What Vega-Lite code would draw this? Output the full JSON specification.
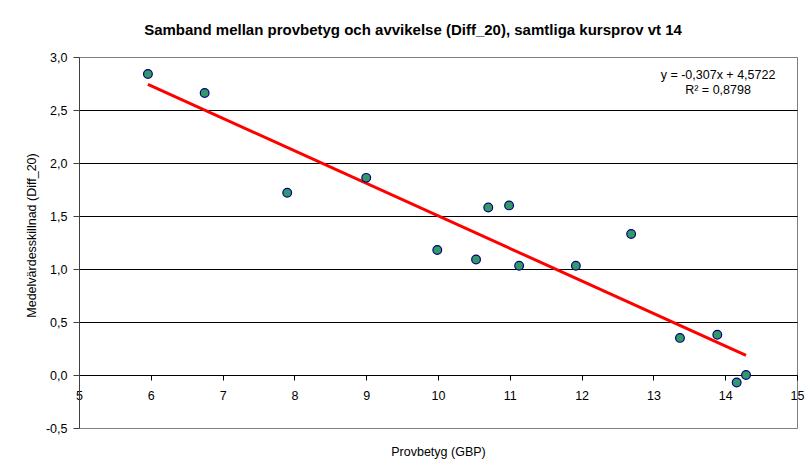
{
  "$schema": "https://vega.github.io/schema/vega-lite/v6.json",
  "width": 718,
  "height": 371,
  "autosize": {"type": "none"},
  "padding": {"left": 79, "top": 57, "right": 12, "bottom": 45},
  "background": "white",
  "config": {
    "font": "Liberation Sans",
    "view": {"stroke": "#808080", "strokeWidth": 1},
    "axis": {"labelFont": "Liberation Sans", "titleFont": "Liberation Sans", "labelColor": "#000", "titleColor": "#000", "titleFontWeight": "normal"}
  },
  "title": {
    "text": "Samband mellan provbetyg och avvikelse (Diff_20), samtliga kursprov vt 14",
    "anchor": "middle",
    "frame": "group",
    "dx": -25,
    "offset": 13,
    "font": "Liberation Sans",
    "fontSize": 15,
    "fontWeight": "bold",
    "color": "#000"
  },
  "datasets": {
    "points": [
      {"provbetyg": 5.96, "diff": 2.84},
      {"provbetyg": 6.75, "diff": 2.66},
      {"provbetyg": 7.90, "diff": 1.72},
      {"provbetyg": 9.00, "diff": 1.86},
      {"provbetyg": 9.99, "diff": 1.18},
      {"provbetyg": 10.53, "diff": 1.09},
      {"provbetyg": 10.70, "diff": 1.58},
      {"provbetyg": 10.99, "diff": 1.60},
      {"provbetyg": 11.13, "diff": 1.03},
      {"provbetyg": 11.92, "diff": 1.03},
      {"provbetyg": 12.69, "diff": 1.33},
      {"provbetyg": 13.37, "diff": 0.35},
      {"provbetyg": 13.89, "diff": 0.38},
      {"provbetyg": 14.16, "diff": -0.07},
      {"provbetyg": 14.29, "diff": 0.0}
    ],
    "trend": [
      {"provbetyg": 5.96, "diff": 2.742},
      {"provbetyg": 14.29, "diff": 0.185}
    ],
    "annotation": [
      {"provbetyg": 13.9, "diff": 2.83, "label": "y = -0,307x + 4,5722"},
      {"provbetyg": 13.9, "diff": 2.69, "label": "R² = 0,8798"}
    ]
  },
  "encoding": {
    "x": {
      "field": "provbetyg",
      "type": "quantitative",
      "scale": {"domain": [5, 15], "nice": false, "zero": false},
      "axis": {
        "title": "Provbetyg (GBP)",
        "titleFontSize": 12.5,
        "titleY": 76,
        "titleBaseline": "middle",
        "offset": -53,
        "values": [5, 6, 7, 8, 9, 10, 11, 12, 13, 14, 15],
        "format": "d",
        "labelFontSize": 12.5,
        "labelFlush": false,
        "labelOverlap": false,
        "labelPadding": 9,
        "tickSize": 5,
        "tickColor": "#000",
        "domainColor": "#000",
        "grid": false
      }
    },
    "y": {
      "field": "diff",
      "type": "quantitative",
      "scale": {"domain": [-0.5, 3], "nice": false, "zero": false},
      "axis": {
        "title": "Medelvärdesskillnad (Diff_20)",
        "titleFontSize": 12.5,
        "titleX": -48,
        "titleY": 178,
        "titleBaseline": "middle",
        "values": [-0.5, 0, 0.5, 1, 1.5, 2, 2.5, 3],
        "labelExpr": "replace(replace(format(datum.value, '.1f'), '.', ','), '\u2212', '-')",
        "labelFontSize": 12.5,
        "labelPadding": 6,
        "tickSize": 6,
        "tickColor": "#404040",
        "domainColor": "#404040",
        "grid": true,
        "gridColor": {"condition": {"test": "datum.value == -0.5 || datum.value == 3", "value": "#808080"}, "value": "#000"},
        "gridOpacity": 1,
        "gridWidth": 1
      }
    }
  },
  "layer": [
    {
      "data": {"name": "trend"},
      "mark": {"type": "line", "color": "#ff0000", "strokeWidth": 3}
    },
    {
      "data": {"name": "points"},
      "mark": {"type": "point", "shape": "circle", "filled": true, "fill": "#339966", "stroke": "#000080", "strokeWidth": 1.2, "size": 76, "opacity": 1}
    },
    {
      "data": {"name": "annotation"},
      "mark": {"type": "text", "font": "Liberation Sans", "fontSize": 12.5, "align": "center", "baseline": "middle", "color": "#000"},
      "encoding": {"text": {"field": "label", "type": "nominal"}}
    }
  ]
}
